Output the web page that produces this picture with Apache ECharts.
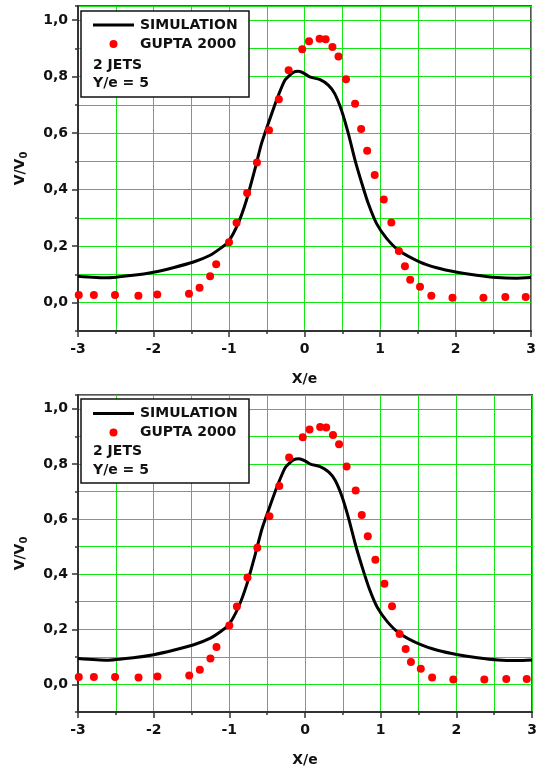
<!DOCTYPE html>
<html>
<head>
<meta charset="utf-8">
<script src="https://cdn.jsdelivr.net/npm/echarts@6/dist/echarts.min.js"></script>
<style>
html,body{margin:0;padding:0;background:#fff;}
#chart{width:537px;height:770px;}
</style>
</head>
<body>
<div id="chart"></div>
<script>
// ---- data ----
const simX = [-3.0,-2.62,-2.27,-2.0,-1.74,-1.47,-1.25,-1.10,-1.01,-0.88,-0.77,-0.66,-0.57,-0.48,-0.37,-0.26,-0.15,-0.08,0.0,0.07,0.20,0.315,0.40,0.49,0.58,0.67,0.76,0.845,0.955,1.09,1.25,1.53,1.75,2.02,2.28,2.55,2.81,3.0];
const simY = [0.094,0.088,0.097,0.108,0.124,0.144,0.168,0.195,0.215,0.280,0.362,0.469,0.563,0.634,0.717,0.787,0.815,0.819,0.811,0.799,0.790,0.770,0.740,0.681,0.599,0.504,0.422,0.351,0.280,0.227,0.185,0.144,0.124,0.108,0.097,0.089,0.087,0.089];
const guptaX = [-2.99,-2.79,-2.51,-2.20,-1.95,-1.53,-1.39,-1.25,-1.17,-1.00,-0.90,-0.76,-0.63,-0.47,-0.34,-0.21,-0.03,0.06,0.20,0.28,0.37,0.45,0.55,0.67,0.75,0.83,0.93,1.05,1.15,1.25,1.33,1.40,1.53,1.68,1.96,2.37,2.66,2.93];
const guptaY = [0.027,0.027,0.027,0.025,0.029,0.032,0.053,0.094,0.136,0.214,0.283,0.388,0.496,0.610,0.720,0.823,0.897,0.925,0.934,0.932,0.905,0.871,0.791,0.704,0.615,0.538,0.452,0.365,0.284,0.183,0.129,0.081,0.057,0.025,0.018,0.018,0.020,0.020];
const xTickLabels = [-3,-2,-1,0,1,2,3];
const yTickLabels = [0,0.2,0.4,0.6,0.8,1.0];
const seriesNames = ['SIMULATION','GUPTA 2000'];
const noteLines = ['2 JETS','Y/e = 5'];
const xTitle = 'X/e';

// ---- build ----
const FONT = 'DejaVu Sans';
const GREEN = '#14e614';
const AXC = '#333';
const simData = simX.map((x,i)=>[x,simY[i]]);
const guptaData = guptaX.map((x,i)=>[x,guptaY[i]]);

const grids = [
  {left:78, top:6, width:453, height:325, show:true, borderColor:'#555', borderWidth:2, backgroundColor:'transparent', outerBoundsMode:'none', containLabel:false},
  {left:78, top:395, width:454, height:317, show:true, borderColor:'#555', borderWidth:2, backgroundColor:'transparent', outerBoundsMode:'none', containLabel:false}
];
const txt = {fontFamily:FONT, fontWeight:'bold', fontSize:14, color:'#111'};

const xAxes = [], yAxes = [], series = [], graphics = [];
grids.forEach((g, gi) => {
  xAxes.push({
    type:'value', gridIndex:gi, position:'bottom', min:-3, max:3, interval:0.5,
    axisLine:{show:true, onZero:false, lineStyle:{color:AXC, width:2}},
    axisTick:{show:true, length:3, lineStyle:{color:AXC, width:1.5}},
    axisLabel:{show:false},
    splitLine:{show:true, lineStyle:{color:GREEN, width:1}},
    name:xTitle, nameLocation:'middle', nameGap:41, nameTextStyle:txt
  });
  xAxes.push({
    type:'value', gridIndex:gi, position:'bottom', offset:0, min:-3, max:3, interval:1,
    axisLine:{show:false, onZero:false},
    axisTick:{show:true, length:6, lineStyle:{color:AXC, width:1.5}},
    axisLabel:Object.assign({show:true, margin:11, formatter:v=>String(v)}, txt),
    splitLine:{show:false}
  });
  yAxes.push({
    type:'value', gridIndex:gi, position:'left', min:-0.1, max:1.05, interval:0.1,
    axisLine:{show:true, onZero:false, lineStyle:{color:AXC, width:2}},
    axisTick:{show:true, length:3, lineStyle:{color:AXC, width:1.5}},
    axisLabel:{show:false},
    splitLine:{show:true, lineStyle:{color:GREEN, width:1}},
    name:'{a|V/V}{b|0}', nameLocation:'middle', nameRotate:90, nameGap:49,
    nameTextStyle:{rich:{
      a:{fontFamily:FONT, fontWeight:'bold', fontSize:14, color:'#111'},
      b:{fontFamily:FONT, fontWeight:'bold', fontSize:10, color:'#111', padding:[7,0,0,0]}
    }}
  });
  yAxes.push({
    type:'value', gridIndex:gi, position:'left', offset:0, min:-0.1, max:1.05, interval:0.1,
    axisLine:{show:false, onZero:false},
    axisTick:{show:true, length:6, customValues:yTickLabels, lineStyle:{color:AXC, width:1.5}},
    axisLabel:Object.assign({show:true, margin:10, customValues:yTickLabels, formatter:v=>v.toFixed(1).replace('.',',')}, txt),
    splitLine:{show:false}
  });
  series.push({
    name:seriesNames[0], type:'line', xAxisIndex:gi*2, yAxisIndex:gi*2,
    data:simData, smooth:0.2, showSymbol:false, symbol:'none',
    lineStyle:{color:'#000', width:3}, z:3
  });
  series.push({
    name:seriesNames[1], type:'scatter', xAxisIndex:gi*2, yAxisIndex:gi*2,
    data:guptaData, symbol:'circle', symbolSize:8,
    itemStyle:{color:'#ff0000', opacity:1}, z:4
  });
});

// legend boxes (drawn as graphics)
const boxes = [
  {left:81, top:11, w:168, h:86, line:25, dot:44, n1:65, n2:83},
  {left:81, top:399, w:168, h:84, line:413.5, dot:432.5, n1:451.5, n2:470}
];
boxes.forEach(b => {
  graphics.push({type:'rect', shape:{x:b.left, y:b.top, width:b.w, height:b.h}, style:{fill:'#fff', stroke:'#111', lineWidth:1.5}, z:100});
  graphics.push({type:'line', shape:{x1:93, y1:b.line, x2:134, y2:b.line}, style:{stroke:'#000', lineWidth:3}, z:101});
  graphics.push({type:'text', x:140, y:b.line, style:{text:seriesNames[0], font:'bold 14px "DejaVu Sans"', fill:'#111', verticalAlign:'middle'}, z:101});
  graphics.push({type:'circle', shape:{cx:113.5, cy:b.dot, r:4}, style:{fill:'#ff0000'}, z:101});
  graphics.push({type:'text', x:140, y:b.dot, style:{text:seriesNames[1], font:'bold 14px "DejaVu Sans"', fill:'#111', verticalAlign:'middle'}, z:101});
  graphics.push({type:'text', x:93, y:b.n1, style:{text:noteLines[0], font:'bold 14px "DejaVu Sans"', fill:'#111', verticalAlign:'middle'}, z:101});
  graphics.push({type:'text', x:93, y:b.n2, style:{text:noteLines[1], font:'bold 14px "DejaVu Sans"', fill:'#111', verticalAlign:'middle'}, z:101});
});

const chart = echarts.init(document.getElementById('chart'), null, {renderer:'canvas'});
chart.setOption({
  animation:false,
  backgroundColor:'#fff',
  grid:grids,
  xAxis:xAxes,
  yAxis:yAxes,
  series:series,
  graphic:graphics
});
</script>
</body>
</html>
